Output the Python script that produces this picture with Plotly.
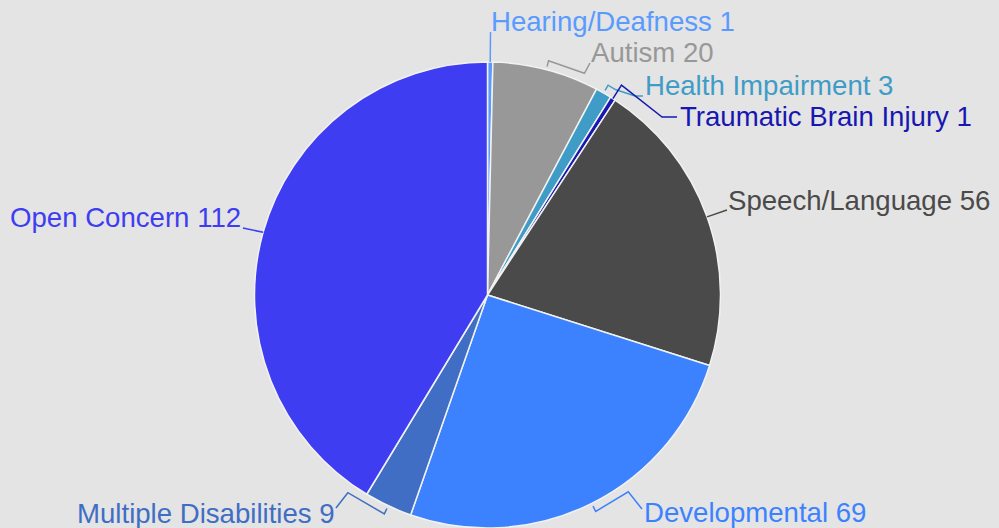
import numpy as np
import plotly.graph_objects as go

# data
categories = ["Hearing/Deafness", "Autism", "Health Impairment", "Traumatic Brain Injury",
              "Speech/Language", "Developmental", "Multiple Disabilities", "Open Concern"]
counts = [1, 20, 3, 1, 56, 69, 9, 112]
colors = ["#5a9bff", "#989898", "#3f9cc6", "#1717b2",
          "#4a4a4a", "#3c82ff", "#3f6ec4", "#3f3df2"]

W, H = 999, 528
CX, CY, R = 487.5, 295, 233
BG = "#e4e4e4"

# label layout, in pixels: (text x, text y, anchor, tick out, bracket deg, extra bends)
label_layout = [
    (489, 21, "left", 30, 0, []),
    (589, 53, "left", 9, 9, [(590, 63)]),
    (643, 85, "left", 9, 2, [(635, 96), (643, 96)]),
    (678, 117, "left", 16, 0, [(662, 117), (677, 117)]),
    (726, 201, "left", 0, 0, [(727, 210)]),
    (642, 512, "left", 9, -9, [(642, 509)]),
    (337, 513, "right", 9, 10, [(336, 508)]),
    (243, 217, "right", 0, 0, [(243, 228)]),
]


def to_paper(px, py):
    return px / W, 1 - py / H


def arc_point(deg, rad):
    a = np.deg2rad(deg)
    return CX + rad * np.sin(a), CY - rad * np.cos(a)


fig = go.Figure(go.Pie(
    labels=categories, values=counts, sort=False, direction="clockwise",
    rotation=0, textinfo="none", hoverinfo="label+value",
    marker=dict(colors=colors, line=dict(color="#f2f2f2", width=1.5)),
    domain=dict(x=[(CX - R) / W, (CX + R) / W], y=[(H - CY - R) / H, (H - CY + R) / H]),
    showlegend=False,
))

total = sum(counts)
cum = np.cumsum([0] + counts)
annotations = []
shapes = []
for i, (name, val) in enumerate(zip(categories, counts)):
    mid = (cum[i] + val / 2) / total * 360
    tx, ty, side, dr, brk, bends = label_layout[i]
    pts = []
    if dr == 0:
        pts.append(arc_point(mid, R))
    else:
        pts.append(arc_point(mid, R + (0 if brk == 0 else 3)))
        pts.append(arc_point(mid, R + dr))
        if brk:
            pts.append(arc_point(mid + brk, R + dr))
    pts += bends
    path = "M " + " L ".join(
        "{:.4f},{:.4f}".format(*to_paper(px, py)) for px, py in pts)
    shapes.append(dict(type="path", path=path, xref="paper", yref="paper",
                       line=dict(color=colors[i], width=1.5)))
    x, y = to_paper(tx, ty)
    annotations.append(dict(
        text="{} {}".format(name, val), x=x, y=y, xref="paper", yref="paper",
        xanchor=side, yanchor="middle", showarrow=False,
        font=dict(family="Liberation Sans, Arial", size=27.6, color=colors[i])))

fig.update_layout(
    width=W, height=H,
    margin=dict(l=0, r=0, t=0, b=0),
    paper_bgcolor=BG, plot_bgcolor=BG,
    annotations=annotations, shapes=shapes,
)

# page has a default body margin; drop it so the chart sits at 0,0
fig.write_html("out.html", config={"displayModeBar": False},
               post_script="document.body.style.margin='0';")
